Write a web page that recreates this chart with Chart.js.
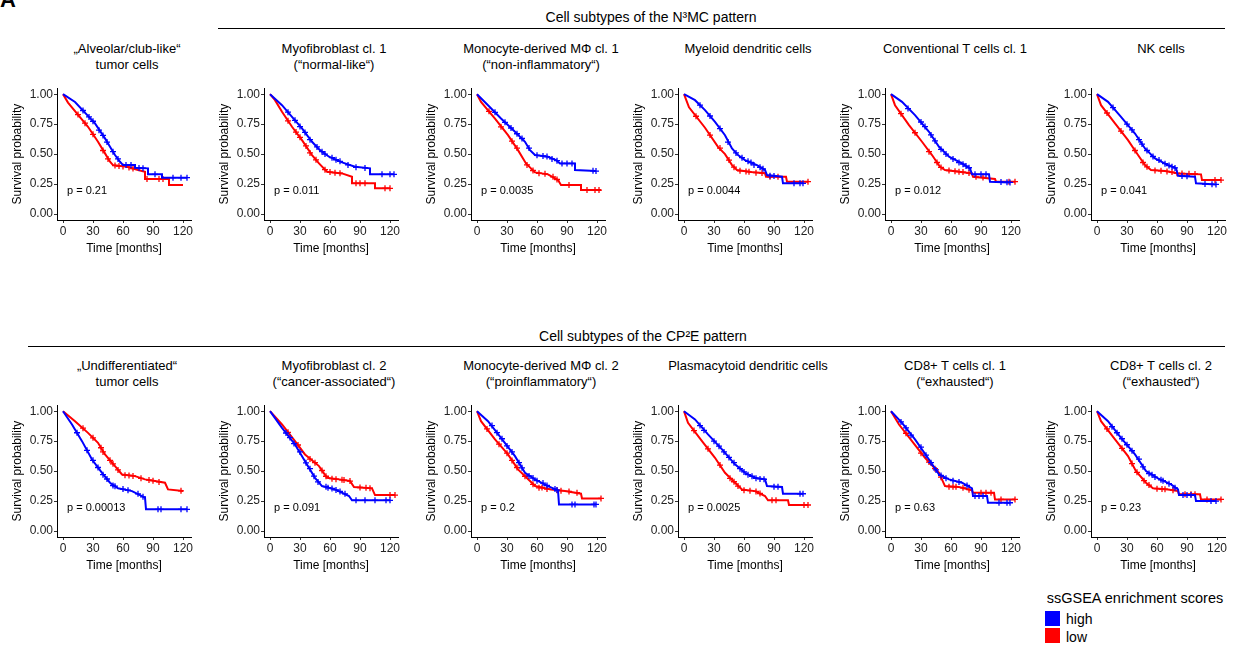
<!DOCTYPE html>
<html><head><meta charset="utf-8">
<script src="https://cdn.jsdelivr.net/npm/chart.js@4/dist/chart.umd.min.js"></script>
<style>
body{margin:0;background:#fff;font-family:"Liberation Sans",Arial,sans-serif;}
#wrap{position:relative;width:1233px;height:646px;overflow:hidden;background:#fff;}
.t{position:absolute;white-space:nowrap;color:#000;transform:translate(-50%,-50%);}
.ln{position:absolute;height:1px;background:#000;}
canvas{position:absolute;}
</style></head><body><div id="wrap"></div>
<script>
const FONT = '"Liberation Sans", Arial, sans-serif';
const xTickValues = [0, 30, 60, 90, 120];
const yTickValues = [0, 0.25, 0.5, 0.75, 1];
const rowHeaders = ['Cell subtypes of the N³MC pattern', 'Cell subtypes of the CP²E pattern'];
const panelTitles = [
 ['„Alveolar/club-like“','tumor cells'], ['Myofibroblast cl. 1','(“normal-like“)'], ['Monocyte-derived MΦ cl. 1','(“non-inflammatory“)'],
 ['Myeloid dendritic cells'], ['Conventional T cells cl. 1'], ['NK cells'],
 ['„Undifferentiated“','tumor cells'], ['Myofibroblast cl. 2','(“cancer-associated“)'], ['Monocyte-derived MΦ cl. 2','(“proinflammatory“)'],
 ['Plasmacytoid dendritic cells'], ['CD8+ T cells cl. 1','(“exhausted“)'], ['CD8+ T cells cl. 2','(“exhausted“)']
];
const pValues = ['p = 0.21','p = 0.011','p = 0.0035','p = 0.0044','p = 0.012','p = 0.041','p = 0.00013','p = 0.091','p = 0.2','p = 0.0025','p = 0.63','p = 0.23'];
const legendTitle = 'ssGSEA enrichment scores';
const groupLabels = ['high', 'low'];
const groupColors = ['#0000ff', '#ff0000'];

// Kaplan-Meier curves [time (months), survival probability]; c* = censoring marks
const hi1 = [[0,1],[12,0.935],[32,0.756],[42,0.631],[47,0.561],[52,0.492],[57,0.436],[60,0.408],[72,0.408],[72,0.386],[85,0.381],[85,0.331],[99,0.331],[99,0.303],[124,0.303]];
const lo1 = [[0,1],[5,0.93],[25,0.728],[35,0.603],[42,0.506],[47,0.436],[50,0.408],[64,0.394],[75,0.367],[82,0.353],[82,0.292],[106,0.292],[106,0.242],[120,0.242]];
const cHi1 = [[20,0.864],[26,0.81],[30,0.774],[36,0.70],[40,0.656],[44,0.60],[50,0.52],[55,0.46],[63,0.408],[68,0.408],[76,0.384],[80,0.382],[92,0.331],[110,0.303],[118,0.303],[124,0.303]];
const cLo1 = [[15,0.83],[22,0.758],[30,0.665],[40,0.53],[45,0.46],[52,0.405],[56,0.40],[60,0.397],[66,0.389],[70,0.38],[84,0.292],[96,0.292],[100,0.292]];

const hi2 = [[0,1],[12,0.908],[22,0.811],[32,0.714],[42,0.603],[50,0.533],[59,0.478],[72,0.431],[85,0.394],[100,0.381],[100,0.331],[124,0.331]];
const lo2 = [[0,1],[5,0.95],[12,0.853],[22,0.728],[32,0.617],[42,0.492],[49,0.422],[57,0.353],[72,0.339],[82,0.311],[82,0.256],[105,0.256],[105,0.214],[120,0.214]];
const cHi2 = [[18,0.85],[25,0.782],[30,0.73],[35,0.681],[40,0.62],[47,0.56],[52,0.52],[55,0.50],[62,0.47],[66,0.453],[70,0.44],[78,0.41],[86,0.39],[95,0.385],[112,0.331],[120,0.331],[124,0.331]];
const cLo2 = [[18,0.778],[26,0.684],[30,0.64],[36,0.568],[40,0.51],[46,0.452],[55,0.37],[60,0.35],[65,0.345],[70,0.34],[86,0.256],[90,0.256],[95,0.256],[115,0.214],[120,0.214]];

const hi3 = [[0,1],[11,0.908],[24,0.797],[38,0.686],[48,0.603],[53,0.533],[58,0.492],[71,0.478],[79,0.45],[83,0.422],[98,0.422],[98,0.367],[119,0.358]];
const lo3 = [[0,1],[4,0.936],[18,0.797],[31,0.658],[41,0.533],[49,0.422],[58,0.347],[71,0.331],[81,0.283],[84,0.242],[104,0.242],[104,0.2],[124,0.2]];
const cHi3 = [[18,0.849],[28,0.765],[34,0.718],[40,0.67],[45,0.63],[52,0.55],[60,0.49],[66,0.485],[70,0.479],[75,0.46],[80,0.445],[85,0.422],[90,0.422],[95,0.422],[116,0.36],[119,0.358]];
const cLo3 = [[12,0.857],[24,0.728],[35,0.608],[40,0.55],[50,0.41],[56,0.363],[62,0.34],[68,0.335],[76,0.31],[80,0.288],[92,0.242],[110,0.2],[118,0.2],[122,0.2]];

const hi4 = [[0,1],[11,0.95],[21,0.867],[31,0.769],[41,0.658],[48,0.547],[54,0.492],[61,0.45],[73,0.408],[81,0.367],[83,0.325],[98,0.311],[99,0.256],[119,0.256]];
const lo4 = [[0,1],[5,0.89],[21,0.72],[34,0.56],[41,0.5],[48,0.408],[53,0.367],[67,0.35],[81,0.34],[82,0.311],[102,0.311],[103,0.27],[124,0.27]];
const cHi4 = [[16,0.908],[26,0.818],[36,0.713],[44,0.6],[52,0.51],[58,0.47],[64,0.44],[67,0.43],[70,0.41],[76,0.39],[79,0.377],[86,0.32],[90,0.318],[110,0.256],[116,0.256],[119,0.256]];
const cLo4 = [[12,0.816],[26,0.659],[36,0.55],[45,0.45],[50,0.391],[56,0.36],[62,0.355],[65,0.352],[72,0.345],[78,0.342],[86,0.311],[94,0.311],[124,0.27]];

const hi5 = [[0,1],[11,0.936],[24,0.825],[38,0.686],[48,0.561],[58,0.478],[71,0.422],[79,0.381],[81,0.331],[98,0.331],[99,0.269],[119,0.264]];
const lo5 = [[0,1],[4,0.908],[18,0.742],[31,0.603],[41,0.492],[49,0.394],[54,0.367],[68,0.353],[81,0.339],[82,0.311],[104,0.292],[105,0.27],[124,0.27]];
const cHi5 = [[17,0.88],[30,0.768],[34,0.73],[40,0.66],[44,0.611],[50,0.54],[55,0.5],[62,0.46],[68,0.43],[72,0.416],[75,0.40],[78,0.386],[84,0.331],[90,0.331],[95,0.331],[110,0.267],[116,0.265],[119,0.264]];
const cLo5 = [[10,0.837],[24,0.678],[38,0.52],[46,0.43],[50,0.389],[58,0.363],[64,0.357],[68,0.353],[72,0.35],[78,0.342],[85,0.31],[92,0.305],[118,0.27],[124,0.27]];

const hi6 = [[0,1],[11,0.936],[24,0.811],[38,0.672],[48,0.547],[58,0.464],[71,0.408],[79,0.381],[81,0.319],[98,0.311],[99,0.256],[119,0.247]];
const lo6 = [[0,1],[4,0.908],[18,0.756],[31,0.617],[41,0.492],[48,0.408],[54,0.367],[68,0.358],[81,0.339],[104,0.331],[105,0.283],[124,0.283]];
const cHi6 = [[16,0.888],[30,0.75],[35,0.702],[42,0.62],[45,0.584],[50,0.53],[56,0.48],[62,0.45],[68,0.42],[72,0.405],[75,0.395],[78,0.385],[85,0.317],[90,0.315],[108,0.25],[115,0.248],[119,0.247]];
const cLo6 = [[10,0.843],[24,0.692],[38,0.53],[46,0.43],[50,0.394],[58,0.364],[64,0.36],[70,0.355],[75,0.35],[80,0.34],[85,0.338],[92,0.336],[98,0.334],[118,0.283],[124,0.283]];

const hi7 = [[0,1],[9,0.889],[19,0.75],[29,0.597],[39,0.486],[47,0.403],[55,0.356],[69,0.333],[82,0.278],[83,0.181],[124,0.181]];
const lo7 = [[0,1],[12,0.917],[25,0.819],[35,0.736],[42,0.639],[52,0.542],[59,0.472],[72,0.458],[82,0.431],[92,0.417],[102,0.403],[105,0.347],[120,0.333]];
const cHi7 = [[14,0.82],[24,0.673],[30,0.59],[35,0.53],[40,0.47],[44,0.434],[50,0.38],[52,0.374],[60,0.35],[65,0.34],[75,0.31],[80,0.285],[95,0.181],[98,0.181],[118,0.181],[124,0.181]];
const cLo7 = [[20,0.858],[30,0.778],[38,0.695],[40,0.66],[47,0.59],[50,0.561],[55,0.51],[62,0.466],[66,0.464],[70,0.46],[78,0.44],[86,0.425],[90,0.42],[96,0.41],[118,0.335]];

const hi8 = [[0,1],[12,0.861],[25,0.722],[35,0.583],[45,0.444],[52,0.375],[65,0.347],[79,0.292],[82,0.256],[120,0.256]];
const lo8 = [[0,1],[12,0.889],[25,0.75],[35,0.639],[49,0.542],[57,0.444],[69,0.431],[80,0.417],[84,0.367],[102,0.356],[105,0.3],[125,0.3]];
const cHi8 = [[16,0.818],[20,0.78],[24,0.73],[30,0.66],[36,0.569],[40,0.52],[44,0.458],[48,0.41],[56,0.37],[58,0.362],[62,0.355],[66,0.343],[70,0.33],[75,0.31],[86,0.256],[95,0.256],[105,0.256],[116,0.256],[120,0.256]];
const cLo8 = [[18,0.824],[28,0.718],[40,0.6],[45,0.57],[52,0.505],[56,0.457],[62,0.437],[66,0.433],[72,0.428],[74,0.425],[80,0.417],[90,0.363],[96,0.36],[100,0.357],[120,0.3],[125,0.3]];

const hi9 = [[0,1],[11,0.917],[24,0.778],[38,0.625],[48,0.486],[58,0.431],[71,0.375],[81,0.339],[82,0.222],[119,0.222]];
const lo9 = [[0,1],[4,0.917],[18,0.764],[31,0.639],[41,0.514],[53,0.417],[58,0.375],[74,0.347],[88,0.333],[104,0.311],[105,0.272],[124,0.272]];
const cHi9 = [[15,0.88],[20,0.821],[25,0.77],[30,0.71],[35,0.66],[42,0.57],[45,0.527],[52,0.46],[56,0.442],[60,0.42],[66,0.4],[70,0.38],[78,0.35],[80,0.342],[95,0.222],[98,0.222],[117,0.222],[119,0.222]];
const cLo9 = [[10,0.852],[22,0.725],[30,0.65],[35,0.589],[40,0.53],[48,0.457],[56,0.39],[62,0.36],[65,0.363],[70,0.35],[80,0.341],[84,0.337],[92,0.33],[100,0.32],[124,0.272]];

const hi10 = [[0,1],[11,0.931],[24,0.806],[38,0.681],[51,0.556],[61,0.486],[71,0.444],[81,0.431],[83,0.375],[98,0.367],[99,0.311],[119,0.311]];
const lo10 = [[0,1],[4,0.903],[18,0.75],[31,0.611],[41,0.486],[51,0.403],[58,0.347],[71,0.333],[81,0.292],[84,0.256],[104,0.256],[105,0.217],[124,0.217]];
const cHi10 = [[16,0.88],[20,0.84],[30,0.75],[35,0.708],[40,0.66],[45,0.614],[50,0.57],[56,0.52],[60,0.493],[64,0.47],[68,0.457],[72,0.44],[76,0.435],[80,0.432],[90,0.37],[94,0.369],[116,0.311],[119,0.311]];
const cLo10 = [[10,0.838],[24,0.686],[36,0.55],[46,0.44],[50,0.411],[54,0.375],[60,0.34],[66,0.337],[72,0.33],[76,0.313],[88,0.256],[92,0.256],[120,0.217],[124,0.217]];

const hi11 = [[0,1],[11,0.903],[24,0.764],[38,0.597],[48,0.472],[58,0.431],[71,0.403],[81,0.356],[82,0.292],[96,0.292],[97,0.236],[119,0.236]];
const lo11 = [[0,1],[8,0.889],[21,0.75],[34,0.611],[48,0.486],[54,0.375],[68,0.367],[81,0.339],[82,0.319],[103,0.319],[104,0.264],[124,0.264]];
const cHi11 = [[10,0.91],[15,0.86],[20,0.8],[30,0.7],[35,0.633],[40,0.57],[45,0.51],[50,0.464],[55,0.44],[62,0.42],[68,0.41],[76,0.38],[84,0.292],[88,0.292],[92,0.292],[108,0.236],[116,0.236],[119,0.236]];
const cLo11 = [[15,0.816],[30,0.65],[38,0.575],[44,0.52],[50,0.449],[58,0.37],[62,0.369],[65,0.369],[72,0.36],[78,0.345],[90,0.319],[95,0.319],[100,0.319],[110,0.264],[124,0.264]];

const hi12 = [[0,1],[11,0.917],[24,0.778],[38,0.639],[49,0.5],[61,0.439],[74,0.389],[81,0.347],[82,0.3],[98,0.3],[99,0.25],[119,0.25]];
const lo12 = [[0,1],[4,0.917],[18,0.764],[31,0.625],[39,0.5],[49,0.403],[56,0.356],[71,0.347],[81,0.333],[82,0.306],[103,0.306],[104,0.264],[124,0.264]];
const cHi12 = [[15,0.87],[20,0.82],[25,0.77],[30,0.72],[35,0.67],[42,0.6],[46,0.536],[52,0.48],[55,0.469],[58,0.45],[64,0.427],[66,0.42],[72,0.395],[78,0.36],[86,0.3],[90,0.3],[94,0.3],[114,0.25],[119,0.25]];
const cLo12 = [[10,0.852],[25,0.69],[35,0.563],[40,0.49],[47,0.42],[52,0.383],[60,0.353],[65,0.35],[68,0.349],[76,0.34],[88,0.306],[94,0.306],[98,0.306],[110,0.264],[124,0.264]];

const highCurves = [hi1,hi2,hi3,hi4,hi5,hi6,hi7,hi8,hi9,hi10,hi11,hi12];
const lowCurves = [lo1,lo2,lo3,lo4,lo5,lo6,lo7,lo8,lo9,lo10,lo11,lo12];
const highCensor = [cHi1,cHi2,cHi3,cHi4,cHi5,cHi6,cHi7,cHi8,cHi9,cHi10,cHi11,cHi12];
const lowCensor = [cLo1,cLo2,cLo3,cLo4,cLo5,cLo6,cLo7,cLo8,cLo9,cLo10,cLo11,cLo12];

// ---------- layout ----------
const wrap = document.getElementById('wrap');
function addText(txt, x, y, size, extra){
  const d = document.createElement('div'); d.className='t'; d.textContent = txt;
  d.style.left = x+'px'; d.style.top = y+'px'; d.style.fontSize = size+'px';
  if (extra) Object.assign(d.style, extra);
  wrap.appendChild(d); return d;
}
function addLine(x, y, w){ const d=document.createElement('div'); d.className='ln'; d.style.left=x+'px'; d.style.top=y+'px'; d.style.width=w+'px'; wrap.appendChild(d); }

const A = document.createElement('div'); A.textContent='A';
Object.assign(A.style,{position:'absolute',left:'0px',top:'-13px',fontSize:'22px',fontWeight:'bold'}); wrap.appendChild(A);

addText(rowHeaders[0], 651, 17, 14); addLine(218, 28, 1007);
addText(rowHeaders[1], 643, 336, 14); addLine(28, 346, 1197);

// legend
addText(legendTitle, 1135, 598, 14.5);
groupLabels.forEach((g,i)=>{
  const sq=document.createElement('div');
  Object.assign(sq.style,{position:'absolute',left:'1045px',top:(611+i*17)+'px',width:'15px',height:'15px',background:groupColors[i]});
  wrap.appendChild(sq);
  addText(g, 1066, 619+i*18, 14, {transform:'translate(0,-50%)'});
});

const zeroX = [63, 270, 477, 684, 891, 1097];
const pvalPlugin = {
  id:'pval',
  afterDatasetsDraw(chart, args, opts){
    const {ctx, scales:{x,y}} = chart;
    ctx.save(); ctx.font = '11px ' + FONT; ctx.fillStyle = '#000'; ctx.textBaseline='middle'; ctx.textAlign='left';
    ctx.fillText(opts.text, x.getPixelForValue(4), y.getPixelForValue(0.19));
    ctx.restore();
  }
};
const toXY = a => a.map(p=>({x:p[0], y:p[1]}));

for (let i=0;i<12;i++){
  const r = Math.floor(i/6), c = i%6;
  const X0 = zeroX[c] - 6;            // chart area left (x = -6)
  const Y0 = 88 + 317*r;              // chart area top (y = 1.05)
  const tl = panelTitles[i];
  tl.forEach((s,k)=> addText(s, zeroX[c]+64, 48 + 317*r + 16*k, 13));
  const cv = document.createElement('canvas');
  cv.width = 191; cv.height = 176;
  cv.style.left = (X0-47)+'px'; cv.style.top = (Y0-8)+'px';
  wrap.appendChild(cv);
  const mk = (data, col) => ({data: toXY(data), borderColor: col, borderWidth: 2, pointRadius: 0, fill:false, tension:0});
  const mc = (data, col) => ({data: toXY(data), showLine:false, pointStyle:'cross', pointRadius:3, pointBorderColor: col, pointBackgroundColor: col, pointBorderWidth:1.3, borderColor: col});
  new Chart(cv, {
    type:'line',
    data:{datasets:[ mc(highCensor[i], groupColors[0]), mk(highCurves[i], groupColors[0]), mc(lowCensor[i], groupColors[1]), mk(lowCurves[i], groupColors[1]) ]},
    options:{
      responsive:false, animation:false, events:[],
      layout:{padding:{top:8,right:10,left:0,bottom:0}},
      plugins:{legend:{display:false}, tooltip:{enabled:false}, pval:{text:pValues[i]}},
      scales:{
        x:{type:'linear', min:-6, max:128,
          afterBuildTicks: s => { s.ticks = xTickValues.map(v=>({value:v})); },
          afterFit: s => { s.height = 36; },
          ticks:{font:{size:12,family:FONT}, color:'#222', padding:1, maxRotation:0, autoSkip:false},
          grid:{drawOnChartArea:false, drawTicks:true, tickLength:3, color:'#333'},
          border:{display:true, color:'#000', width:1},
          title:{display:true, text:'Time [months]', font:{size:12,family:FONT}, color:'#000', padding:0}},
        y:{type:'linear', min:-0.05, max:1.05,
          afterBuildTicks: s => { s.ticks = yTickValues.map(v=>({value:v})); },
          afterFit: s => { s.width = 47; },
          ticks:{font:{size:12,family:FONT}, color:'#222', padding:1, callback: v => Number(v).toFixed(2), autoSkip:false},
          grid:{drawOnChartArea:false, drawTicks:true, tickLength:3, color:'#333'},
          border:{display:true, color:'#000', width:1},
          title:{display:true, text:'Survival probability', font:{size:12,family:FONT}, color:'#000', padding:0}}
      }
    },
    plugins:[pvalPlugin]
  });
}
</script></body></html>
